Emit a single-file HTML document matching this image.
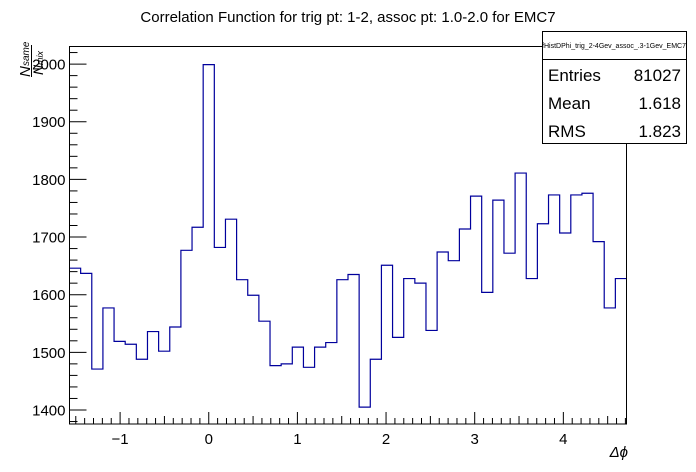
<!DOCTYPE html>
<html><head><meta charset="utf-8"><style>
body{margin:0;background:#fff}
svg{display:block;font-family:"Liberation Sans",sans-serif}
</style></head><body>
<svg id="c" width="696" height="472">
<rect width="696" height="472" fill="#fff"/>
<text x="348" y="22" font-size="15" text-anchor="middle">Correlation Function for trig pt: 1-2, assoc pt: 1.0-2.0 for EMC7</text>
<g id="axes"></g>
<path id="hist" fill="none" stroke="#00009c" stroke-width="1.2"/>
<rect x="69.5" y="46.5" width="557" height="377.5" fill="none" stroke="#000" stroke-width="1"/>
<g transform="translate(30,77) rotate(-90)">
<text x="0" y="0" font-size="15" font-style="italic">N</text>
<text x="11" y="-1" font-size="10" font-style="italic">same</text>
<line x1="0" y1="1.5" x2="32" y2="1.5" stroke="#000" stroke-width="1"/>
<text x="2" y="13" font-size="14" font-style="italic">N</text>
<text x="12" y="13" font-size="9" font-style="italic">mix</text>
</g>
<text x="628" y="457" font-size="15" font-style="italic" text-anchor="end">Δϕ</text>
<g>
<rect x="542.5" y="31.5" width="144" height="112" fill="#fff" stroke="#000"/>
<line x1="542.5" y1="59.5" x2="686.5" y2="59.5" stroke="#000"/>
<text x="614" y="48" font-size="7" text-anchor="middle">fHistDPhi_trig_2-4Gev_assoc_.3-1Gev_EMC7</text>
<text x="548" y="81" font-size="17">Entries</text><text x="681" y="81" font-size="17" text-anchor="end">81027</text>
<text x="548" y="109" font-size="17">Mean</text><text x="681" y="109" font-size="17" text-anchor="end">1.618</text>
<text x="548" y="137" font-size="17">RMS</text><text x="681" y="137" font-size="17" text-anchor="end">1.823</text>
</g>
</svg>
<script>
const values=[1646,1637,1471,1577,1519,1514,1488,1536,1502,1544,1677,1717,1999,1682,1731,1626,1599,1554,1477,1480,1509,1474,1509,1517,1626,1635,1405,1488,1651,1526,1628,1620,1538,1674,1659,1714,1771,1604,1764,1672,1811,1628,1723,1773,1707,1773,1776,1692,1577,1628];
const xTicks=[-1,0,1,2,3,4];
const yTicks=[1400,1500,1600,1700,1800,1900,2000];
const xMin=-Math.PI/2,xMax=3*Math.PI/2,yMin=1375.7,yMax=2030.5;
const L=69.5,R=626.5,T=46.5,B=424;
const sx=v=>L+(v-xMin)/(xMax-xMin)*(R-L);
const sy=v=>B-(v-yMin)/(yMax-yMin)*(B-T);
const ns="http://www.w3.org/2000/svg";
const ax=document.getElementById('axes');
function mk(tag,attrs){const e=document.createElementNS(ns,tag);for(const k in attrs)e.setAttribute(k,attrs[k]);ax.appendChild(e);return e;}
const n=values.length,w=(xMax-xMin)/n;
let d="M"+sx(xMin)+","+sy(values[0]);
values.forEach((v,i)=>{d+=" L"+sx(xMin+i*w)+","+sy(v)+" L"+sx(xMin+(i+1)*w)+","+sy(v);});
document.getElementById('hist').setAttribute('d',d);
for(let v=1380;v<=2030;v+=20){const maj=v%100===0;mk('line',{x1:L,x2:L+(maj?17:8),y1:sy(v),y2:sy(v),stroke:'#000'});}
yTicks.forEach(v=>{const t=mk('text',{x:L-4,y:sy(v)+5.5,'font-size':15,'text-anchor':'end'});t.textContent=v;

});
for(let k=-15;k<=47;k++){const v=k/10;if(v<xMin||v>xMax)continue;const maj=k%10===0;const h=maj?12:(k%5===0?8:6);mk('line',{x1:sx(v),x2:sx(v),y1:B,y2:B-h,stroke:'#000'});}
xTicks.forEach(v=>{const t=mk('text',{x:sx(v),y:B+20,'font-size':15,'text-anchor':'middle'});t.textContent=v<0?"\u2212"+(-v):v;

});
</script>
</body></html>
